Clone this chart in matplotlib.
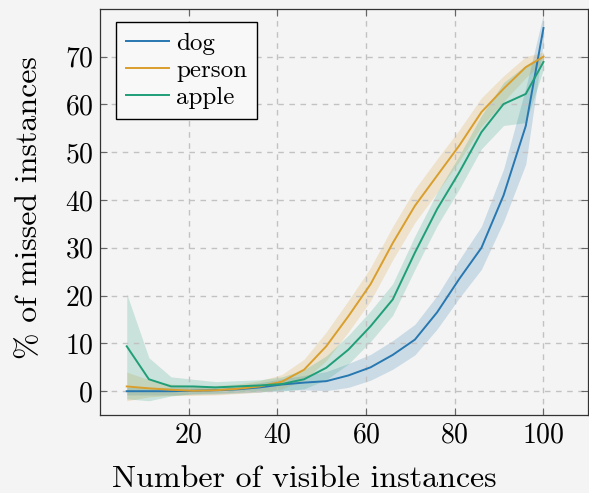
import matplotlib
matplotlib.use("Agg")
import matplotlib.pyplot as plt
import numpy as np

plt.rcParams['font.family'] = 'serif'
plt.rcParams['font.serif'] = ['cmr10', 'DejaVu Serif']
plt.rcParams['mathtext.fontset'] = 'cm'
plt.rcParams['axes.formatter.use_mathtext'] = True

visible = [6, 11, 16, 21, 26, 31, 36, 41, 46, 51, 56, 61, 66, 71, 76, 81, 86, 91, 96, 100]

dog = [0.0, 0.0, 0.0, 0.1, 0.2, 0.4, 0.8, 1.4, 1.8, 2.1, 3.3, 5.0, 7.6, 10.8, 16.5, 23.5, 30.0, 41.0, 55.5, 76.0]
dog_std = [0.8, 0.8, 0.8, 0.8, 0.8, 0.8, 1.0, 1.2, 1.5, 2.0, 2.5, 2.7, 3.0, 3.2, 3.5, 4.0, 4.5, 5.5, 8.0, 3.0]

person = [1.0, 0.6, 0.3, 0.1, 0.2, 0.5, 1.0, 2.0, 4.5, 9.4, 15.7, 22.4, 31.0, 38.8, 45.1, 51.4, 58.4, 63.3, 67.8, 70.0]
person_std = [3.0, 1.8, 1.2, 1.0, 1.0, 1.0, 1.2, 1.5, 2.2, 3.0, 3.3, 3.5, 3.5, 3.5, 3.5, 3.3, 3.0, 2.7, 2.2, 1.0]

apple = [9.4, 2.5, 1.0, 1.0, 0.8, 1.0, 1.2, 1.5, 2.5, 4.9, 8.7, 13.6, 19.2, 29.0, 38.1, 45.8, 54.2, 60.1, 62.2, 68.9]
apple_std = [11.0, 4.5, 2.0, 1.5, 1.2, 1.2, 1.2, 1.5, 2.0, 2.5, 3.0, 3.2, 3.3, 3.5, 3.5, 3.5, 3.5, 4.5, 6.0, 1.5]

names = ['dog', 'person', 'apple']
colors = ['#2777b0', '#d99e2c', '#1f9e78']

bg = '#f4f4f4'
fig = plt.figure(figsize=(5.89, 4.93), dpi=100, facecolor=bg)
ax = fig.add_axes([0.170, 0.158, 0.828, 0.824])
ax.set_facecolor(bg)

x = np.array(visible)
for name, vals, std, c in zip(names, [dog, person, apple], [dog_std, person_std, apple_std], colors):
    v = np.array(vals)
    s = np.array(std)
    ax.fill_between(x, v - s, v + s, color=c, alpha=0.2, linewidth=0)
    ax.plot(x, v, color=c, linewidth=1.4, label=name)

ax.set_xlim(0, 110)
ax.set_ylim(-5, 80)
ax.set_xticks([20, 40, 60, 80, 100])
ax.set_yticks([0, 10, 20, 30, 40, 50, 60, 70])
ax.grid(True, linestyle=(0, (4, 4)), color='#c2c2c2', linewidth=1.0)
ax.tick_params(direction='in', top=True, right=True, length=5, labelsize=20,
               color='#666666', pad=5)
for sp in ax.spines.values():
    sp.set_color('#333333')
    sp.set_linewidth(0.9)

ax.set_xlabel('Number of visible instances', fontsize=23)
ax.set_ylabel('% of missed instances', fontsize=23)
ax.xaxis.set_label_coords(0.418, -0.124)
ax.yaxis.set_label_coords(-0.117, 0.51)

leg = ax.legend(loc='upper left', fontsize=18, frameon=True, fancybox=False,
                edgecolor='black', handlelength=1.7, handletextpad=0.3,
                labelspacing=0.18, borderpad=0.4, borderaxespad=0,
                bbox_to_anchor=(0.033, 0.967))
leg.get_frame().set_linewidth(1.0)
leg.get_frame().set_facecolor('#f8f8f8')
leg.get_frame().set_alpha(1)

fig.savefig('out.png', dpi=100, facecolor=bg)
